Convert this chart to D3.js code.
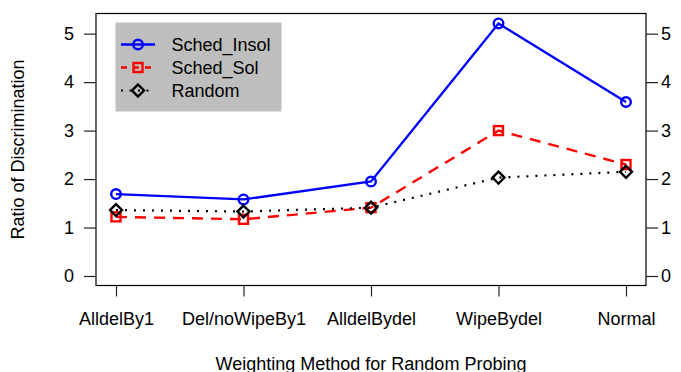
<!DOCTYPE html>
<html>
<head>
<meta charset="utf-8">
<script src="https://cdn.jsdelivr.net/npm/d3@7"></script>
<style>
  html, body { margin: 0; padding: 0; background: #fff; }
  svg { display: block; font-family: "Liberation Sans", Arial, Helvetica, sans-serif; }
</style>
</head>
<body>
<svg id="chart" width="681" height="372"></svg>
<script>
// Weighting methods on the x axis
const categories = ["AlldelBy1", "Del/noWipeBy1", "AlldelBydel", "WipeBydel", "Normal"];

// Ratio of discrimination per method
const schedInsol = [1.69, 1.58, 1.95, 5.21, 3.59];
const schedSol   = [1.22, 1.17, 1.41, 3.00, 2.30];
const randomVals = [1.36, 1.33, 1.41, 2.03, 2.15];

const yTicks = [0, 1, 2, 3, 4, 5];
const seriesNames = ["Sched_Insol", "Sched_Sol", "Random"];

const series = [
  { name: seriesNames[0], values: schedInsol, color: "#0000ff", dash: null,   legendDash: null,    width: 2.4, dot: "circle" },
  { name: seriesNames[1], values: schedSol,   color: "#ff0000", dash: "11,8", legendDash: "6,6",   width: 2.4, dot: "square" },
  { name: seriesNames[2], values: randomVals, color: "#000000", dash: "2,7",  legendDash: "2,6.5", width: 2.2, dot: "diamond" }
];

const svg = d3.select("#chart");
const box = { left: 96, right: 646, top: 13.5, bottom: 285.5 };
const fontSize = "18px";

const x = d3.scalePoint().domain(categories).range([116, 626]);
const y = d3.scaleLinear().domain([0, 5]).range([276, 33.65]);

// plot frame
svg.append("rect")
  .attr("x", box.left).attr("y", box.top)
  .attr("width", box.right - box.left).attr("height", box.bottom - box.top)
  .attr("fill", "none").attr("stroke", "#000").attr("stroke-width", 1.2);

function styleAxis(g) {
  g.select(".domain").remove();
  g.selectAll(".tick line").attr("stroke", "#222").attr("stroke-width", 1.2);
  g.selectAll(".tick text").attr("fill", "#000").style("font-size", fontSize)
    .style("font-family", "'Liberation Sans', Arial, Helvetica, sans-serif");
}

svg.append("g")
  .attr("transform", `translate(${box.left},0)`)
  .call(d3.axisLeft(y).tickValues(yTicks).tickFormat(d3.format("d")).tickSize(12).tickPadding(10))
  .call(styleAxis);

svg.append("g")
  .attr("transform", `translate(${box.right},0)`)
  .call(d3.axisRight(y).tickValues(yTicks).tickFormat(d3.format("d")).tickSize(12).tickPadding(3))
  .call(styleAxis);

svg.append("g")
  .attr("transform", `translate(0,${box.bottom})`)
  .call(d3.axisBottom(x).tickSize(11).tickPadding(15.5))
  .call(styleAxis);

// axis titles
svg.append("text")
  .attr("x", (box.left + box.right) / 2).attr("y", 369.5)
  .attr("text-anchor", "middle").style("font-size", fontSize)
  .text("Weighting Method for Random Probing");

svg.append("text")
  .attr("transform", `translate(24,${(box.top + box.bottom) / 2}) rotate(-90)`)
  .attr("text-anchor", "middle").style("font-size", fontSize)
  .text("Ratio of Discrimination");

// marker shapes
function drawMarker(g, type, cx, cy, color) {
  if (type === "circle") {
    g.append("circle").attr("cx", cx).attr("cy", cy).attr("r", 4.8)
      .attr("fill", "none").attr("stroke", color).attr("stroke-width", 2.4);
  } else if (type === "square") {
    g.append("rect").attr("x", cx - 4.5).attr("y", cy - 4.5).attr("width", 9).attr("height", 9)
      .attr("fill", "none").attr("stroke", color).attr("stroke-width", 2.4);
  } else {
    const r = 6;
    g.append("path")
      .attr("d", `M${cx},${cy - r}L${cx + r},${cy}L${cx},${cy + r}L${cx - r},${cy}Z`)
      .attr("fill", "none").attr("stroke", color).attr("stroke-width", 2.4);
  }
}

const line = d3.line().x((d, i) => x(categories[i])).y(d => y(d));

series.forEach(s => {
  const g = svg.append("g");
  g.append("path")
    .attr("d", line(s.values))
    .attr("fill", "none").attr("stroke", s.color).attr("stroke-width", s.width)
    .attr("stroke-dasharray", s.dash);
  s.values.forEach((v, i) => drawMarker(g, s.dot, x(categories[i]), y(v), s.color));
});

// legend
const legend = svg.append("g");
legend.append("rect")
  .attr("x", 115.5).attr("y", 22.5).attr("width", 166).attr("height", 89)
  .attr("fill", "#bebebe");
const rowY = [44.5, 67.5, 90.5];
series.forEach((s, i) => {
  legend.append("line")
    .attr("x1", 121).attr("x2", 155).attr("y1", rowY[i]).attr("y2", rowY[i])
    .attr("stroke", s.color).attr("stroke-width", s.width)
    .attr("stroke-dasharray", s.legendDash);
  drawMarker(legend, s.dot, 138, rowY[i], s.color);
  legend.append("text")
    .attr("x", 171.5).attr("y", rowY[i]).attr("dy", "0.36em")
    .style("font-size", fontSize)
    .text(s.name);
});
</script>
</body>
</html>
